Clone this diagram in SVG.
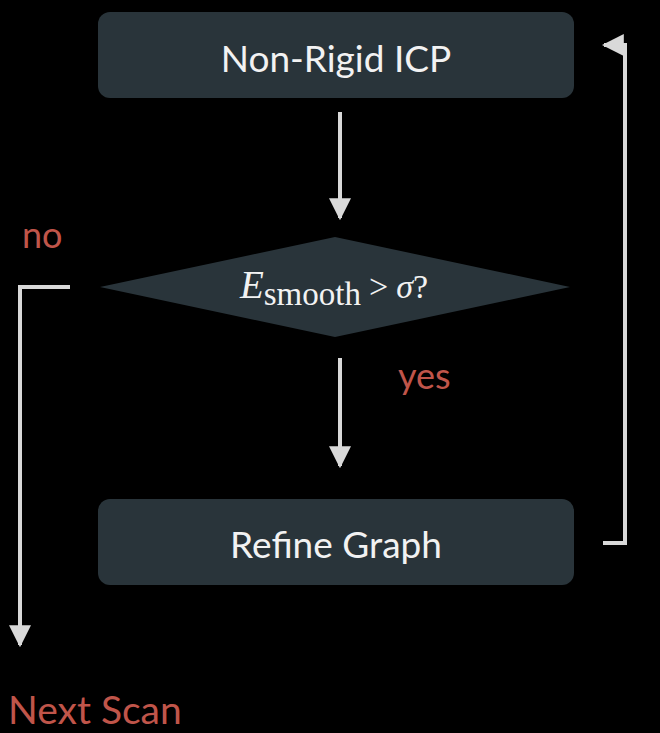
<svg xmlns="http://www.w3.org/2000/svg" width="660" height="733" viewBox="0 0 660 733">
<style>
.box{fill:#29343a}
.lbl{font-family:"Lato","Open Sans",sans-serif;fill:#f2f2f2;font-size:37px;text-anchor:middle}
.red{font-family:"Lato","Open Sans",sans-serif;fill:#c0554a;font-size:36px}
.big{font-size:39px}
.conn{fill:none;stroke:#d9d9d9;stroke-width:4}
.math{font-family:"Liberation Serif","DejaVu Serif",serif;fill:#f2f2f2}
</style>
<defs>
<marker id="ah" viewBox="0 0 10 10" refX="9" refY="5" markerWidth="5.5" markerHeight="5.5" orient="auto" markerUnits="strokeWidth">
<path d="M0,0 L10,5 L0,10 Z" fill="#d9d9d9"/>
</marker>
</defs>
<rect width="660" height="733" fill="#000"/>
<g id="connectors">
<path class="conn" d="M340,112 V218" marker-end="url(#ah)"/>
<path class="conn" d="M340,358 V466" marker-end="url(#ah)"/>
<path class="conn" d="M70,287 H20 V645" marker-end="url(#ah)"/>
<path class="conn" d="M603,543 H625 V45 H604" marker-end="url(#ah)"/>
</g>
<g id="node-icp">
<rect class="box" x="98" y="12" width="476" height="86" rx="12"/>
<text class="lbl" x="336" y="72">Non-Rigid ICP</text>
</g>
<g id="node-decision">
<polygon class="box" points="335,237 570,287 335,337 100,287"/>
<text class="math" x="334" y="298" text-anchor="middle"><tspan font-style="italic" font-size="39">E</tspan><tspan font-size="33" dy="7">smooth</tspan><tspan font-size="34" dy="-7" dx="8">&gt;</tspan><tspan font-style="italic" font-size="34" dx="8">σ</tspan><tspan font-size="34">?</tspan></text>
</g>
<g id="node-refine">
<rect class="box" x="98" y="499" width="476" height="86" rx="12"/>
<text class="lbl" x="336" y="558">Refine Graph</text>
</g>
<g id="labels">
<text class="red" x="22" y="248">no</text>
<text class="red" x="398" y="389">yes</text>
<text class="red big" x="8" y="724">Next Scan</text>
</g>
</svg>
